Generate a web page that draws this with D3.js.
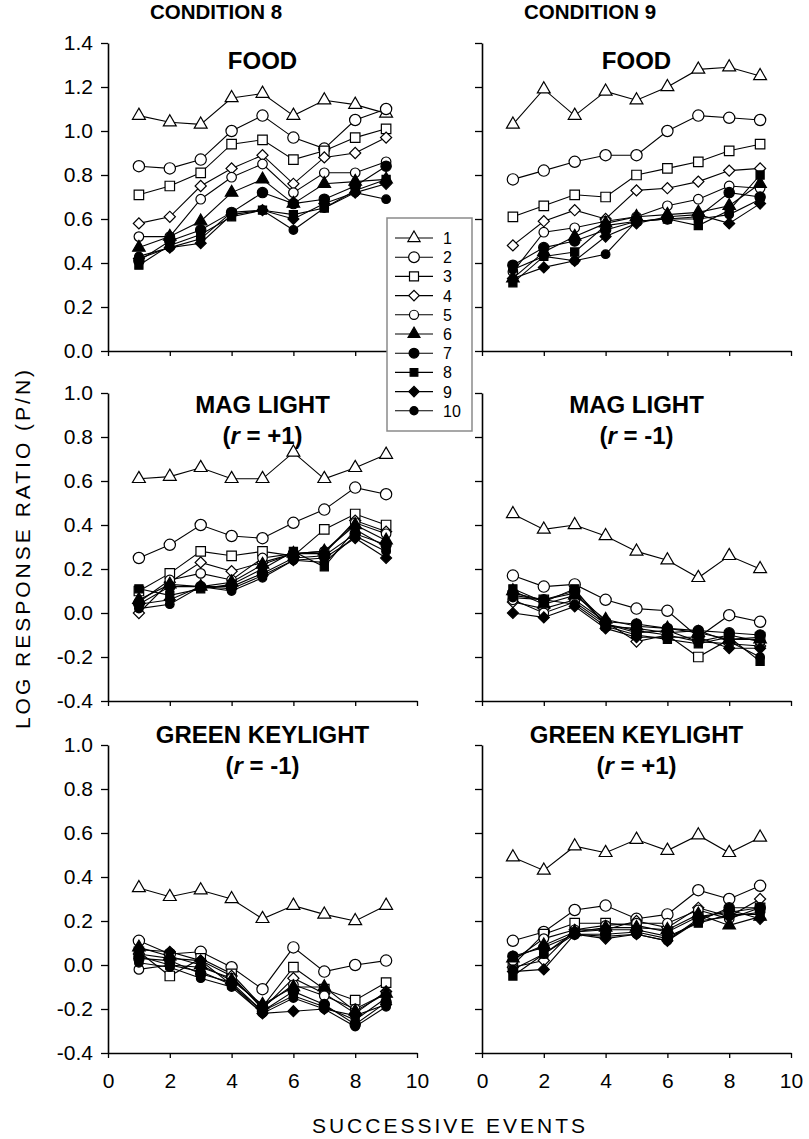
<!DOCTYPE html>
<html>
<head>
<meta charset="utf-8">
<script src="https://cdn.jsdelivr.net/npm/d3@7"></script>
<style>
  body { margin: 0; background: #fff; }
  text { font-family: "Liberation Sans", Arial, Helvetica, sans-serif; fill: #000; }
</style>
</head>
<body>
<svg id="chart" width="809" height="1139"></svg>
<script>
// Successive events on the x axis
const events = [1, 2, 3, 4, 5, 6, 7, 8, 9];
const seriesNames = ["1", "2", "3", "4", "5", "6", "7", "8", "9", "10"];
const xTicks = [0, 2, 4, 6, 8, 10];
const yTicksFood = [0, 0.2, 0.4, 0.6, 0.8, 1.0, 1.2, 1.4];
const yTicksOther = [-0.4, -0.2, 0, 0.2, 0.4, 0.6, 0.8, 1.0];

// Log response ratio per series (rows = series 1..10, columns = events 1..9)
const food8 = [
  [1.07, 1.04, 1.03, 1.15, 1.17, 1.07, 1.14, 1.12, 1.08],
  [0.84, 0.83, 0.87, 1.00, 1.07, 0.97, 0.92, 1.05, 1.10],
  [0.71, 0.75, 0.81, 0.94, 0.96, 0.87, 0.91, 0.97, 1.01],
  [0.58, 0.61, 0.75, 0.83, 0.89, 0.76, 0.88, 0.90, 0.97],
  [0.52, 0.52, 0.69, 0.79, 0.85, 0.72, 0.81, 0.81, 0.86],
  [0.47, 0.52, 0.59, 0.72, 0.78, 0.67, 0.76, 0.77, 0.78],
  [0.41, 0.50, 0.55, 0.63, 0.72, 0.67, 0.69, 0.75, 0.84],
  [0.39, 0.48, 0.53, 0.61, 0.64, 0.62, 0.65, 0.73, 0.78],
  [0.42, 0.47, 0.49, 0.62, 0.64, 0.60, 0.67, 0.72, 0.76],
  [0.43, 0.47, 0.51, 0.63, 0.64, 0.55, 0.65, 0.72, 0.69]
];
const food9 = [
  [1.03, 1.19, 1.07, 1.18, 1.14, 1.20, 1.28, 1.29, 1.25],
  [0.78, 0.82, 0.86, 0.89, 0.89, 1.00, 1.07, 1.06, 1.05],
  [0.61, 0.66, 0.71, 0.70, 0.80, 0.83, 0.86, 0.91, 0.94],
  [0.48, 0.59, 0.64, 0.60, 0.73, 0.74, 0.77, 0.82, 0.83],
  [0.36, 0.54, 0.56, 0.59, 0.61, 0.66, 0.69, 0.75, 0.74],
  [0.33, 0.45, 0.52, 0.58, 0.61, 0.62, 0.63, 0.66, 0.76],
  [0.39, 0.47, 0.50, 0.55, 0.59, 0.60, 0.61, 0.72, 0.70],
  [0.31, 0.43, 0.45, 0.57, 0.59, 0.60, 0.57, 0.64, 0.80],
  [0.33, 0.38, 0.41, 0.52, 0.58, 0.61, 0.62, 0.58, 0.67],
  [0.37, 0.43, 0.41, 0.44, 0.59, 0.60, 0.60, 0.62, 0.69]
];
const mag8 = [
  [0.61, 0.62, 0.66, 0.61, 0.61, 0.73, 0.61, 0.66, 0.72],
  [0.25, 0.31, 0.40, 0.35, 0.34, 0.41, 0.47, 0.57, 0.54],
  [0.10, 0.18, 0.28, 0.26, 0.28, 0.26, 0.38, 0.45, 0.40],
  [0.00, 0.14, 0.23, 0.19, 0.23, 0.27, 0.27, 0.42, 0.37],
  [0.05, 0.15, 0.18, 0.15, 0.25, 0.27, 0.28, 0.41, 0.36],
  [0.06, 0.13, 0.12, 0.14, 0.22, 0.27, 0.28, 0.40, 0.33],
  [0.04, 0.12, 0.12, 0.12, 0.18, 0.25, 0.26, 0.36, 0.31],
  [0.11, 0.08, 0.11, 0.13, 0.20, 0.28, 0.21, 0.38, 0.30],
  [0.04, 0.06, 0.12, 0.11, 0.17, 0.24, 0.25, 0.34, 0.25],
  [0.02, 0.04, 0.12, 0.10, 0.16, 0.24, 0.23, 0.35, 0.28]
];
const mag9 = [
  [0.45, 0.38, 0.40, 0.35, 0.28, 0.24, 0.16, 0.26, 0.20],
  [0.17, 0.12, 0.13, 0.06, 0.02, 0.01, -0.11, -0.01, -0.04],
  [0.08, 0.06, 0.09, -0.05, -0.08, -0.10, -0.20, -0.12, -0.11],
  [0.05, 0.02, 0.06, -0.04, -0.13, -0.10, -0.13, -0.14, -0.15],
  [0.06, 0.00, 0.05, -0.05, -0.09, -0.08, -0.13, -0.10, -0.13],
  [0.10, 0.04, 0.08, -0.03, -0.06, -0.07, -0.09, -0.12, -0.12],
  [0.09, 0.06, 0.10, -0.04, -0.05, -0.07, -0.08, -0.09, -0.10],
  [0.11, 0.05, 0.11, -0.06, -0.10, -0.12, -0.14, -0.11, -0.22],
  [0.00, -0.02, 0.03, -0.07, -0.11, -0.11, -0.11, -0.16, -0.16],
  [0.07, 0.06, 0.04, -0.06, -0.07, -0.09, -0.08, -0.13, -0.20]
];
const green8 = [
  [0.35, 0.31, 0.34, 0.30, 0.21, 0.27, 0.23, 0.20, 0.27],
  [0.11, 0.05, 0.06, -0.01, -0.11, 0.08, -0.03, 0.00, 0.02],
  [0.06, -0.05, 0.03, -0.04, -0.19, -0.01, -0.11, -0.16, -0.08],
  [0.05, 0.03, 0.02, -0.05, -0.20, -0.06, -0.13, -0.22, -0.12],
  [-0.02, 0.00, -0.01, -0.06, -0.19, -0.09, -0.14, -0.20, -0.13],
  [0.08, 0.04, 0.00, -0.07, -0.18, -0.10, -0.10, -0.21, -0.13],
  [0.03, 0.02, -0.04, -0.08, -0.21, -0.12, -0.18, -0.27, -0.17],
  [0.04, 0.00, -0.03, -0.09, -0.21, -0.14, -0.19, -0.25, -0.15],
  [0.07, 0.06, 0.02, -0.09, -0.22, -0.21, -0.20, -0.23, -0.18],
  [0.01, -0.01, -0.06, -0.10, -0.22, -0.15, -0.20, -0.28, -0.19]
];
const green9 = [
  [0.49, 0.43, 0.54, 0.51, 0.57, 0.52, 0.59, 0.51, 0.58],
  [0.11, 0.15, 0.25, 0.27, 0.21, 0.23, 0.34, 0.30, 0.36],
  [0.00, 0.14, 0.19, 0.19, 0.18, 0.15, 0.22, 0.24, 0.26],
  [-0.01, 0.02, 0.16, 0.16, 0.20, 0.17, 0.26, 0.22, 0.30],
  [0.02, 0.12, 0.16, 0.18, 0.19, 0.19, 0.25, 0.21, 0.26],
  [0.03, 0.09, 0.15, 0.17, 0.17, 0.16, 0.23, 0.18, 0.22],
  [0.04, 0.08, 0.14, 0.14, 0.15, 0.12, 0.20, 0.26, 0.26],
  [-0.05, 0.05, 0.15, 0.16, 0.16, 0.13, 0.19, 0.23, 0.23],
  [-0.03, -0.02, 0.14, 0.12, 0.14, 0.11, 0.21, 0.25, 0.21],
  [-0.02, 0.05, 0.14, 0.13, 0.14, 0.11, 0.20, 0.22, 0.24]
];

const svg = d3.select("#chart");

// Marker style for each series: shape, fill, size
const markers = [
  { shape: d3.symbolTriangle, fill: "#fff", size: 72, rot: 0 },
  { shape: d3.symbolCircle,   fill: "#fff", size: 100, rot: 0 },
  { shape: d3.symbolSquare,   fill: "#fff", size: 90, rot: 0 },
  { shape: d3.symbolSquare,   fill: "#fff", size: 62, rot: 45 },
  { shape: d3.symbolCircle,   fill: "#fff", size: 72, rot: 0 },
  { shape: d3.symbolTriangle, fill: "#000", size: 68, rot: 0 },
  { shape: d3.symbolCircle,   fill: "#000", size: 84, rot: 0 },
  { shape: d3.symbolSquare,   fill: "#000", size: 66, rot: 0 },
  { shape: d3.symbolSquare,   fill: "#000", size: 60, rot: 45 },
  { shape: d3.symbolCircle,   fill: "#000", size: 58, rot: 0 }
];

const colX = [108, 482];
const plotW = 309;
const rowY = [43, 393, 745];
const plotH = 308;

const panels = [
  { data: food8,  col: 0, row: 0, domain: [0, 1.4],   ticks: yTicksFood,  title: ["FOOD"], titleY: 69 },
  { data: food9,  col: 1, row: 0, domain: [0, 1.4],   ticks: yTicksFood,  title: ["FOOD"], titleY: 69 },
  { data: mag8,   col: 0, row: 1, domain: [-0.4, 1.0], ticks: yTicksOther, title: ["MAG LIGHT", "+1"], titleY: 413 },
  { data: mag9,   col: 1, row: 1, domain: [-0.4, 1.0], ticks: yTicksOther, title: ["MAG LIGHT", "-1"], titleY: 413 },
  { data: green8, col: 0, row: 2, domain: [-0.4, 1.0], ticks: yTicksOther, title: ["GREEN KEYLIGHT", "-1"], titleY: 743 },
  { data: green9, col: 1, row: 2, domain: [-0.4, 1.0], ticks: yTicksOther, title: ["GREEN KEYLIGHT", "+1"], titleY: 743 }
];

const fmt = d => d.toFixed(1);

panels.forEach(p => {
  const x0 = colX[p.col], y0 = rowY[p.row];
  const x = d3.scaleLinear().domain([0, 10]).range([x0, x0 + plotW]);
  const y = d3.scaleLinear().domain(p.domain).range([y0 + plotH, y0]);
  const g = svg.append("g");

  // axes
  const yAxis = d3.axisLeft(y).tickValues(p.ticks).tickSize(7).tickSizeOuter(0)
    .tickFormat(p.col === 0 ? fmt : () => "");
  const ya = g.append("g").attr("transform", `translate(${x0},0)`).call(yAxis);
  const xAxis = d3.axisBottom(x).tickValues(xTicks).tickSize(5).tickSizeOuter(0)
    .tickFormat(p.row === 2 ? d3.format("d") : () => "");
  const xa = g.append("g").attr("transform", `translate(0,${y0 + plotH})`).call(xAxis);
  [ya, xa].forEach(a => {
    a.select(".domain").attr("stroke", "#000").attr("stroke-width", 1.6);
    a.selectAll(".tick line").attr("stroke", "#000").attr("stroke-width", 1.3);
    a.selectAll(".tick text").attr("font-size", 21).attr("fill", "#000")
      .style("font-family", '"Liberation Sans", Arial, sans-serif');
  });
  ya.selectAll(".tick text").attr("x", -15);
  xa.selectAll(".tick text").attr("y", 20);

  // titles
  const cx = x0 + plotW / 2;
  g.append("text").attr("x", cx).attr("y", p.titleY).attr("text-anchor", "middle")
    .attr("font-size", 24).attr("font-weight", "bold").text(p.title[0]);
  if (p.title.length > 1) {
    const t = g.append("text").attr("x", cx).attr("y", p.titleY + 31).attr("text-anchor", "middle")
      .attr("font-size", 24).attr("font-weight", "bold");
    t.append("tspan").text("(");
    t.append("tspan").attr("font-style", "italic").text("r");
    t.append("tspan").text(" = " + p.title[1] + ")");
  }

  // series: line then markers, drawn in order
  const line = d3.line().x((d, i) => x(events[i])).y(d => y(d));
  p.data.forEach((vals, s) => {
    const m = markers[s];
    g.append("path").datum(vals).attr("d", line)
      .attr("fill", "none").attr("stroke", "#000").attr("stroke-width", 1.1);
    g.selectAll(null).data(vals).enter().append("path")
      .attr("d", d3.symbol().type(m.shape).size(m.size))
      .attr("transform", (d, i) => `translate(${x(events[i])},${y(d)}) rotate(${m.rot})`)
      .attr("fill", m.fill).attr("stroke", "#000").attr("stroke-width", 1.2);
  });
});

// condition headers
svg.append("text").attr("x", 216).attr("y", 19).attr("text-anchor", "middle")
  .attr("font-size", 20.5).attr("font-weight", "bold").text("CONDITION 8");
svg.append("text").attr("x", 590).attr("y", 19).attr("text-anchor", "middle")
  .attr("font-size", 20.5).attr("font-weight", "bold").text("CONDITION 9");

// axis titles
svg.append("text").attr("transform", "translate(30,548) rotate(-90)").attr("text-anchor", "middle")
  .attr("font-size", 21).attr("letter-spacing", 3).text("LOG RESPONSE RATIO (P/N)");
svg.append("text").attr("x", 450).attr("y", 1133).attr("text-anchor", "middle")
  .attr("font-size", 21).attr("letter-spacing", 3).text("SUCCESSIVE EVENTS");

// legend
const lg = svg.append("g");
lg.append("rect").attr("x", 387).attr("y", 218).attr("width", 85).attr("height", 213)
  .attr("fill", "#fff").attr("stroke", "#8a8a8a").attr("stroke-width", 1.5);
seriesNames.forEach((name, i) => {
  const ly = 238 + i * 19.2;
  const m = markers[i];
  lg.append("line").attr("x1", 395).attr("x2", 433).attr("y1", ly).attr("y2", ly)
    .attr("stroke", "#000").attr("stroke-width", 1.1);
  lg.append("path").attr("d", d3.symbol().type(m.shape).size(m.size * 0.9))
    .attr("transform", `translate(414,${ly}) rotate(${m.rot})`)
    .attr("fill", m.fill).attr("stroke", "#000").attr("stroke-width", 1.2);
  lg.append("text").attr("x", 443).attr("y", ly + 6).attr("font-size", 16).text(name);
});
</script>
</body>
</html>
